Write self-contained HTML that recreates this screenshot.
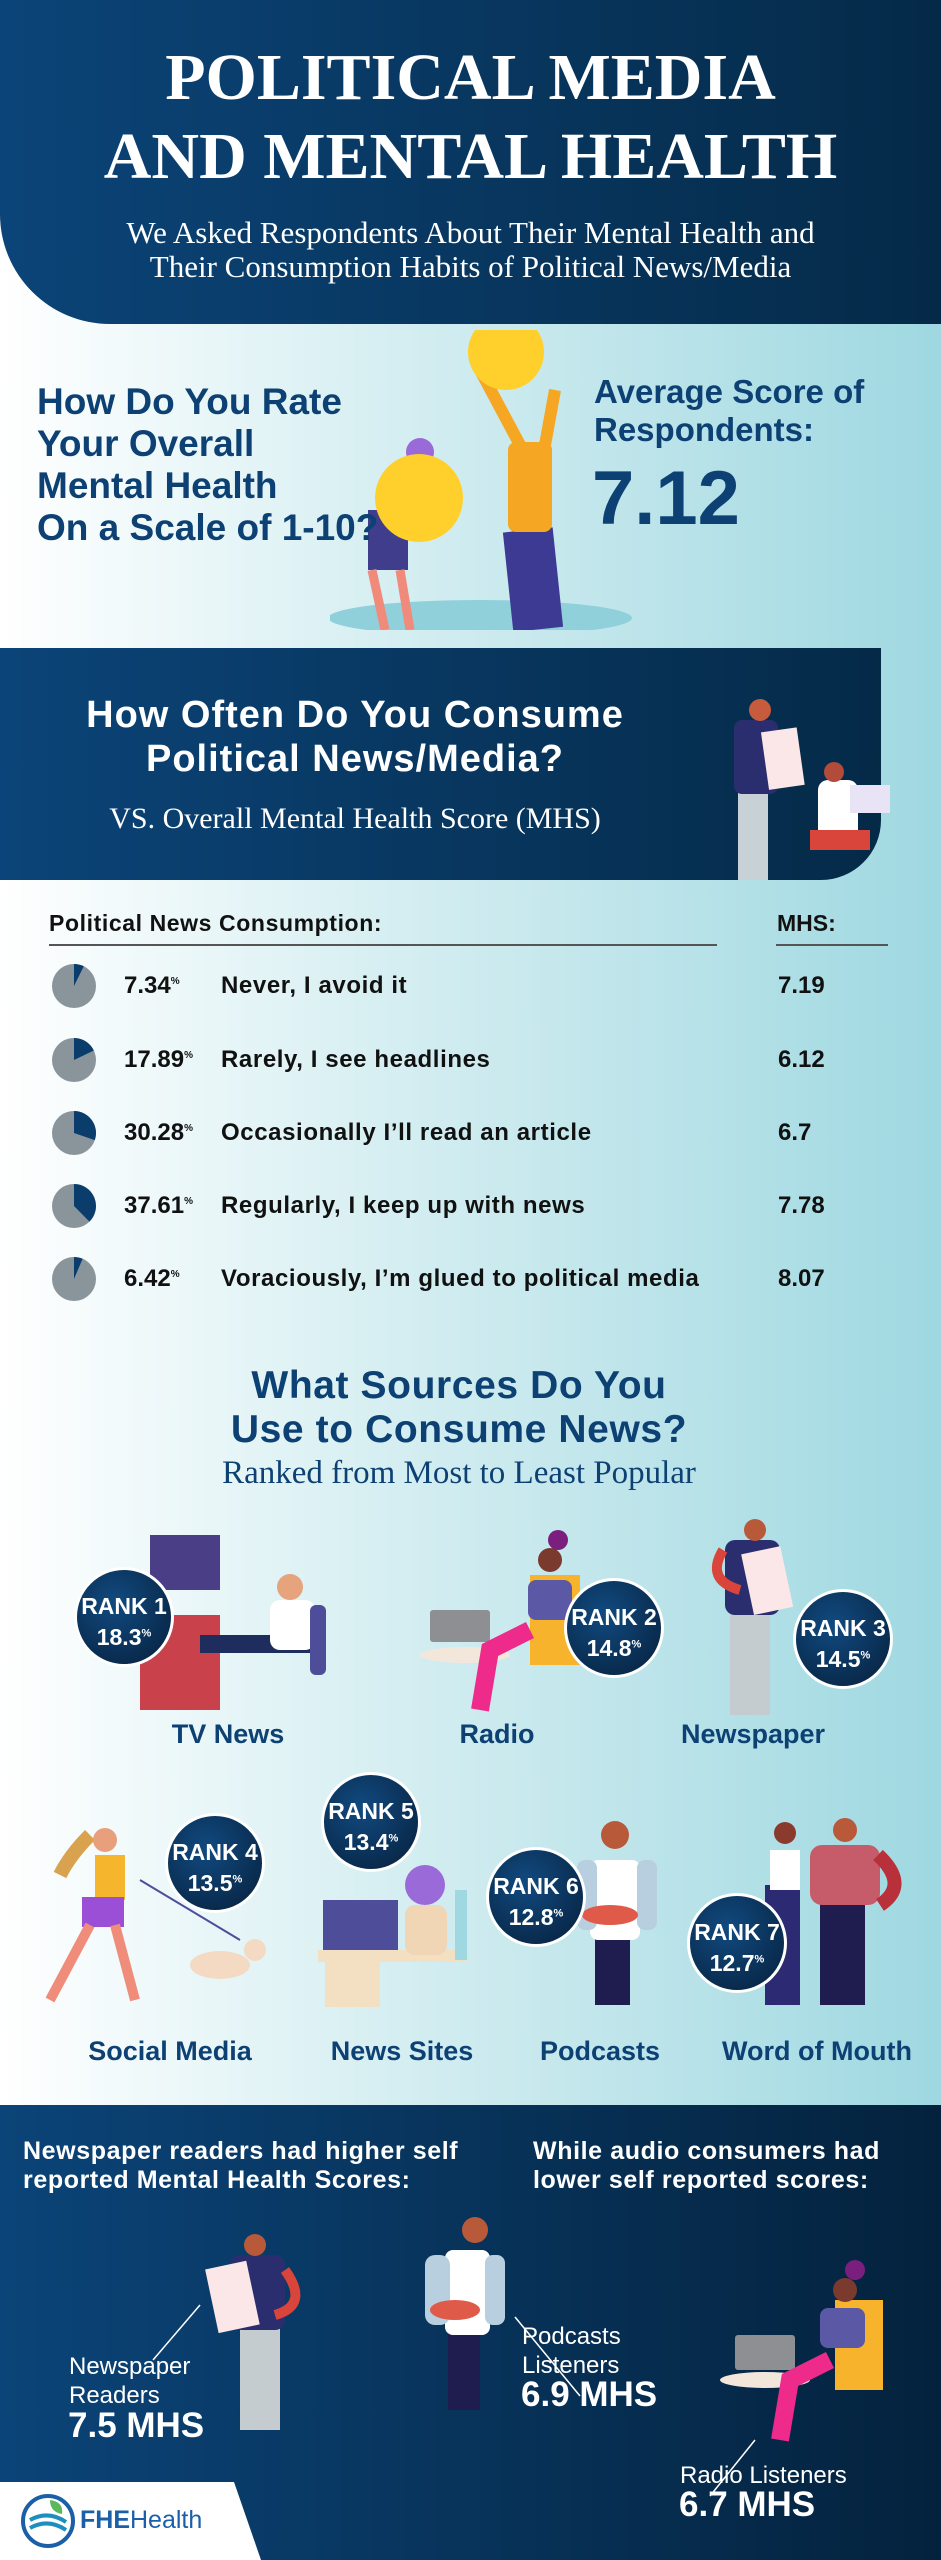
<!DOCTYPE html>
<html><head><meta charset="utf-8">
<style>
*{margin:0;padding:0;box-sizing:border-box}
body{width:941px;height:2560px;position:relative;overflow:hidden;font-family:"Liberation Sans",sans-serif;background:linear-gradient(90deg,#ffffff 0%,#d7eff2 40%,#9fd8e1 100%)}
.a{position:absolute;white-space:nowrap}
.serif{font-family:"Liberation Serif",serif}
.blue{color:#0d4174}
.b{font-weight:bold}
.hdr{position:absolute;left:0;top:0;width:941px;height:324px;background:linear-gradient(90deg,#0b4478,#052a48);border-bottom-left-radius:110px}
.sec2{position:absolute;left:0;top:648px;width:881px;height:232px;background:linear-gradient(90deg,#0b4478,#052a48);border-bottom-right-radius:60px}
.foot{position:absolute;left:0;top:2105px;width:941px;height:455px;background:linear-gradient(90deg,#0b4478,#04223d)}
.badge{position:absolute;width:100px;height:100px;border-radius:50%;background:radial-gradient(circle at 40% 35%,#114a80,#061f3a);border:3px solid #fff;color:#fff;font-weight:bold;text-align:center;font-size:19px;line-height:24px;padding-top:24px}
.badge span{font-size:23px}
.badge sup{font-size:11px}
.lbl{position:absolute;font-weight:bold;font-size:27px;color:#0d4174;transform:translateX(-50%);white-space:nowrap}
.row{position:absolute;left:0;width:941px;height:40px;font-weight:bold;font-size:24px;color:#111;letter-spacing:0.6px}
.row svg{position:absolute;left:51px;top:-2px}
.row .p{position:absolute;left:124px;top:7px;letter-spacing:0}
.row .p sup{font-size:10px}
.row .t{position:absolute;left:221px;top:7px}
.row .m{position:absolute;left:778px;top:7px;letter-spacing:0}
</style></head><body>
<div class="hdr"></div>
<div class="a serif b" style="left:0;width:941px;text-align:center;top:38px;font-size:66px;color:#fff;line-height:79px">POLITICAL MEDIA<br>AND MENTAL HEALTH</div>
<div class="a serif" style="left:0;width:941px;text-align:center;top:216px;font-size:31px;color:#fff;line-height:34px">We Asked Respondents About Their Mental Health and<br>Their Consumption Habits of Political News/Media</div>

<!-- illustration 1 -->
<svg class="a" style="left:330px;top:330px" width="310" height="300">
<ellipse cx="150" cy="288" rx="152" ry="18" fill="#8fd0da"/>
<rect x="38" y="180" width="40" height="60" fill="#3f3d8c"/>
<path d="M42 240 L55 300 M70 240 L80 300" stroke="#f08a7a" stroke-width="9"/>
<circle cx="90" cy="122" r="14" fill="#9a6ad8"/>
<rect x="178" y="200" width="50" height="100" fill="#3d3a94" transform="rotate(-6 200 250)"/>
<rect x="178" y="112" width="44" height="90" rx="8" fill="#f5a623"/>
<path d="M190 115 L150 40 M215 115 L225 60" stroke="#f5a623" stroke-width="12"/>
<circle cx="176" cy="22" r="38" fill="#ffd02b"/>
<circle cx="89" cy="168" r="44" fill="#ffd02b"/>
</svg>
<div class="a b blue" style="left:37px;top:381px;font-size:37px;line-height:42px;z-index:2">How Do You Rate<br>Your Overall<br>Mental Health<br>On a Scale of 1-10?</div>
<div class="a blue" style="left:594px;top:373px;font-size:33px;line-height:38px;font-weight:bold">Average Score of<br>Respondents:</div>
<div class="a b blue" style="left:592px;top:455px;font-size:76px;line-height:88px">7.12</div>

<div class="sec2"></div>
<div class="a b" style="left:0;width:710px;text-align:center;top:693px;font-size:38px;line-height:44px;color:#fff;letter-spacing:1px">How Often Do You Consume<br>Political News/Media?</div>
<div class="a serif" style="left:0;width:710px;text-align:center;top:802px;font-size:30px;color:#fff">VS. Overall Mental Health Score (MHS)</div>
<svg class="a" style="left:710px;top:680px" width="190" height="210">
<rect x="28" y="110" width="30" height="90" fill="#c8d2d6"/>
<rect x="24" y="40" width="44" height="74" rx="8" fill="#2a2e6e"/>
<circle cx="50" cy="30" r="11" fill="#c75b3d"/>
<rect x="55" y="50" width="36" height="58" fill="#fbe7e7" transform="rotate(-8 70 80)"/>
<rect x="108" y="100" width="40" height="60" rx="10" fill="#fff"/>
<rect x="100" y="150" width="60" height="20" fill="#d9453a"/>
<rect x="140" y="105" width="40" height="28" fill="#e9e4f5"/>
<circle cx="124" cy="92" r="10" fill="#b34b3a"/>
</svg>

<div class="a b" style="left:49px;top:910px;font-size:23px;color:#111;letter-spacing:0.6px">Political News Consumption:</div>
<div class="a" style="left:49px;top:944px;width:668px;height:2px;background:#555"></div>
<div class="a b" style="left:777px;top:910px;font-size:23px;color:#111">MHS:</div>
<div class="a" style="left:776px;top:944px;width:112px;height:2px;background:#555"></div>

<div class="row" style="top:965px"><svg width="46" height="46" viewBox="-23 -23 46 46"><circle r="22" fill="#8a959b"/><path d="M0 0 L0 -22 A22 22 0 0 1 9.8 -19.7Z" fill="#0b3d6c"/></svg><span class="p">7.34<sup>%</sup></span><span class="t">Never, I avoid it</span><span class="m">7.19</span></div>
<div class="row" style="top:1039px"><svg width="46" height="46" viewBox="-23 -23 46 46"><circle r="22" fill="#8a959b"/><path d="M0 0 L0 -22 A22 22 0 0 1 19.84 -9.51Z" fill="#0b3d6c"/></svg><span class="p">17.89<sup>%</sup></span><span class="t">Rarely, I see headlines</span><span class="m">6.12</span></div>
<div class="row" style="top:1112px"><svg width="46" height="46" viewBox="-23 -23 46 46"><circle r="22" fill="#8a959b"/><path d="M0 0 L0 -22 A22 22 0 0 1 20.8 7.16Z" fill="#0b3d6c"/></svg><span class="p">30.28<sup>%</sup></span><span class="t">Occasionally I’ll read an article</span><span class="m">6.7</span></div>
<div class="row" style="top:1185px"><svg width="46" height="46" viewBox="-23 -23 46 46"><circle r="22" fill="#8a959b"/><path d="M0 0 L0 -22 A22 22 0 0 1 15.45 15.66Z" fill="#0b3d6c"/></svg><span class="p">37.61<sup>%</sup></span><span class="t">Regularly, I keep up with news</span><span class="m">7.78</span></div>
<div class="row" style="top:1258px"><svg width="46" height="46" viewBox="-23 -23 46 46"><circle r="22" fill="#8a959b"/><path d="M0 0 L0 -22 A22 22 0 0 1 8.63 -20.24Z" fill="#0b3d6c"/></svg><span class="p">6.42<sup>%</sup></span><span class="t">Voraciously, I’m glued to political media</span><span class="m">8.07</span></div>

<div class="a b blue" style="left:0;width:918px;text-align:center;top:1364px;font-size:39px;line-height:44px;letter-spacing:0.6px">What Sources Do You<br>Use to Consume News?</div>
<div class="a serif blue" style="left:0;width:918px;text-align:center;top:1455px;font-size:33px">Ranked from Most to Least Popular</div>

<svg class="a" style="left:130px;top:1535px" width="230" height="180">
<rect x="20" y="0" width="70" height="55" fill="#4a3f86"/>
<rect x="10" y="80" width="80" height="95" fill="#c9414a"/>
<rect x="70" y="100" width="110" height="18" fill="#1f2c5e"/>
<rect x="140" y="65" width="45" height="50" rx="10" fill="#fff"/>
<rect x="180" y="70" width="16" height="70" rx="6" fill="#4e4d9a"/>
<circle cx="160" cy="52" r="13" fill="#e7a37c"/>
</svg>
<svg class="a" style="left:410px;top:1520px" width="190" height="200">
<rect x="20" y="90" width="60" height="32" rx="3" fill="#8d8f93"/>
<ellipse cx="55" cy="135" rx="45" ry="8" fill="#f3e7dc"/>
<rect x="120" y="55" width="50" height="90" fill="#f7b32b"/>
<rect x="118" y="60" width="44" height="40" rx="8" fill="#5b58a5"/>
<path d="M120 110 L80 130 L70 190" stroke="#ee2a8a" stroke-width="18" fill="none"/>
<circle cx="140" cy="40" r="12" fill="#7a3b2e"/>
<circle cx="148" cy="20" r="10" fill="#7a1f7d"/>
</svg>
<svg class="a" style="left:705px;top:1510px" width="110" height="210">
<rect x="25" y="100" width="40" height="105" fill="#c4ccd0"/>
<rect x="20" y="30" width="55" height="75" rx="10" fill="#2a2e6e"/>
<circle cx="50" cy="20" r="11" fill="#b85a3a"/>
<rect x="42" y="40" width="40" height="62" fill="#fbe7e7" transform="rotate(-12 60 70)"/>
<path d="M18 40 Q0 70 35 80" stroke="#d9453a" stroke-width="10" fill="none"/>
</svg>

<div class="badge" style="left:74px;top:1567px"><span>RANK 1</span><br><span>18.3<sup>%</sup></span></div>
<div class="badge" style="left:564px;top:1578px"><span>RANK 2</span><br><span>14.8<sup>%</sup></span></div>
<div class="badge" style="left:793px;top:1589px"><span>RANK 3</span><br><span>14.5<sup>%</sup></span></div>

<div class="lbl" style="left:228px;top:1719px">TV News</div>
<div class="lbl" style="left:497px;top:1719px">Radio</div>
<div class="lbl" style="left:753px;top:1719px">Newspaper</div>

<svg class="a" style="left:40px;top:1815px" width="240" height="200">
<path d="M50 20 Q30 40 20 60" stroke="#d9a24e" stroke-width="14" fill="none"/>
<circle cx="65" cy="25" r="12" fill="#e8a07c"/>
<rect x="55" y="40" width="30" height="45" fill="#f5b52d"/>
<rect x="42" y="82" width="42" height="30" fill="#9b4fd6"/>
<path d="M50 110 L10 185 M75 110 L95 185" stroke="#ef8c7a" stroke-width="10"/>
<path d="M100 65 L200 125" stroke="#4e4d9a" stroke-width="2"/>
<ellipse cx="180" cy="150" rx="30" ry="14" fill="#f4d9c3"/>
<circle cx="215" cy="135" r="11" fill="#f4d9c3"/>
</svg>
<svg class="a" style="left:315px;top:1845px" width="180" height="170">
<rect x="8" y="55" width="75" height="50" fill="#4e4d9a"/>
<rect x="3" y="105" width="150" height="12" fill="#f3dfc1"/>
<rect x="10" y="117" width="55" height="45" fill="#f3dfc1"/>
<rect x="90" y="60" width="42" height="50" rx="10" fill="#f0d6b5"/>
<circle cx="110" cy="40" r="20" fill="#9a6ad8"/>
<rect x="140" y="45" width="12" height="70" fill="#9fd8e1"/>
</svg>
<svg class="a" style="left:555px;top:1805px" width="120" height="210">
<rect x="40" y="130" width="35" height="70" fill="#1f1d4f"/>
<rect x="35" y="55" width="50" height="80" rx="8" fill="#fff"/>
<rect x="22" y="55" width="20" height="70" rx="8" fill="#b8cfe0"/>
<rect x="82" y="55" width="20" height="70" rx="8" fill="#b8cfe0"/>
<ellipse cx="55" cy="110" rx="28" ry="10" fill="#e05a4a"/>
<circle cx="60" cy="30" r="14" fill="#b85a3a"/>
</svg>
<svg class="a" style="left:760px;top:1815px" width="160" height="200">
<rect x="5" y="70" width="35" height="120" fill="#2b2a72"/>
<rect x="10" y="35" width="30" height="40" fill="#fff"/>
<circle cx="25" cy="18" r="11" fill="#8a3b2e"/>
<rect x="60" y="70" width="45" height="120" fill="#1f1d4f"/>
<rect x="50" y="30" width="70" height="60" rx="12" fill="#c65b6a"/>
<circle cx="85" cy="15" r="12" fill="#b85a3a"/>
<path d="M118 40 Q150 70 120 90" stroke="#b8303a" stroke-width="14" fill="none"/>
</svg>

<div class="badge" style="left:165px;top:1813px"><span>RANK 4</span><br><span>13.5<sup>%</sup></span></div>
<div class="badge" style="left:321px;top:1772px"><span>RANK 5</span><br><span>13.4<sup>%</sup></span></div>
<div class="badge" style="left:486px;top:1847px"><span>RANK 6</span><br><span>12.8<sup>%</sup></span></div>
<div class="badge" style="left:687px;top:1893px"><span>RANK 7</span><br><span>12.7<sup>%</sup></span></div>

<div class="lbl" style="left:170px;top:2036px">Social Media</div>
<div class="lbl" style="left:402px;top:2036px">News Sites</div>
<div class="lbl" style="left:600px;top:2036px">Podcasts</div>
<div class="lbl" style="left:817px;top:2036px">Word of Mouth</div>

<div class="foot"></div>
<div class="a b" style="left:23px;top:2137px;font-size:25px;line-height:29px;color:#fff;letter-spacing:0.6px">Newspaper readers had higher self<br>reported Mental Health Scores:</div>
<div class="a b" style="left:533px;top:2137px;font-size:25px;line-height:29px;color:#fff;letter-spacing:0.6px">While audio consumers had<br>lower self reported scores:</div>

<svg class="a" style="left:200px;top:2230px" width="110" height="210">
<rect x="40" y="95" width="40" height="105" fill="#c4ccd0"/>
<rect x="30" y="25" width="55" height="75" rx="10" fill="#2a2e6e"/>
<circle cx="55" cy="15" r="11" fill="#b85a3a"/>
<rect x="12" y="35" width="42" height="65" fill="#fbe7e7" transform="rotate(-12 30 70)"/>
<path d="M85 40 Q110 75 75 85" stroke="#d9453a" stroke-width="10" fill="none"/>
</svg>
<svg class="a" style="left:420px;top:2215px" width="100" height="200">
<rect x="28" y="115" width="32" height="80" fill="#1f1d4f"/>
<rect x="25" y="35" width="45" height="85" rx="8" fill="#fff"/>
<rect x="5" y="40" width="25" height="70" rx="10" fill="#b8cfe0"/>
<rect x="65" y="40" width="20" height="70" rx="8" fill="#b8cfe0"/>
<ellipse cx="35" cy="95" rx="25" ry="10" fill="#e05a4a"/>
<circle cx="55" cy="15" r="13" fill="#b85a3a"/>
</svg>
<svg class="a" style="left:710px;top:2260px" width="190" height="200">
<rect x="25" y="75" width="60" height="35" rx="3" fill="#8d8f93"/>
<ellipse cx="55" cy="120" rx="45" ry="8" fill="#f3e7dc"/>
<rect x="125" y="40" width="48" height="90" fill="#f7b32b"/>
<rect x="110" y="48" width="45" height="40" rx="8" fill="#5b58a5"/>
<path d="M120 100 L80 120 L70 180" stroke="#ee2a8a" stroke-width="18" fill="none"/>
<circle cx="135" cy="30" r="12" fill="#7a3b2e"/>
<circle cx="145" cy="10" r="10" fill="#7a1f7d"/>
</svg>
<svg class="a" style="left:0;top:2300px" width="941" height="200">
<path d="M200 5 L153 60" stroke="#fff" stroke-width="1.5"/>
<path d="M515 17 L580 96" stroke="#fff" stroke-width="1.5"/>
<path d="M755 140 L710 196" stroke="#fff" stroke-width="1.5"/>
</svg>
<div class="a" style="left:69px;top:2352px;font-size:24px;line-height:29px;color:#fff">Newspaper<br>Readers</div>
<div class="a b" style="left:68px;top:2406px;font-size:35px;color:#fff">7.5 MHS</div>
<div class="a" style="left:522px;top:2322px;font-size:24px;line-height:29px;color:#fff">Podcasts<br>Listeners</div>
<div class="a b" style="left:521px;top:2375px;font-size:35px;color:#fff">6.9 MHS</div>
<div class="a" style="left:680px;top:2462px;font-size:24px;color:#fff">Radio Listeners</div>
<div class="a b" style="left:679px;top:2485px;font-size:35px;color:#fff">6.7 MHS</div>

<svg class="a" style="left:0;top:2482px" width="270" height="78"><path d="M0 0 L234 0 L261 78 L0 78Z" fill="#fff"/>
<circle cx="48" cy="39" r="25" fill="none" stroke="#1a5fa8" stroke-width="4"/>
<path d="M30 38 Q48 28 66 40 M30 46 Q48 36 66 48" stroke="#1a8fc0" stroke-width="4" fill="none"/>
<path d="M50 18 Q64 20 62 32 Q50 30 50 18Z" fill="#5cb85c"/>
</svg>
<div class="a b" style="left:80px;top:2506px;font-size:25px;color:#1a5fa8">FHE<span style="font-weight:normal">Health</span></div>
</body></html>
